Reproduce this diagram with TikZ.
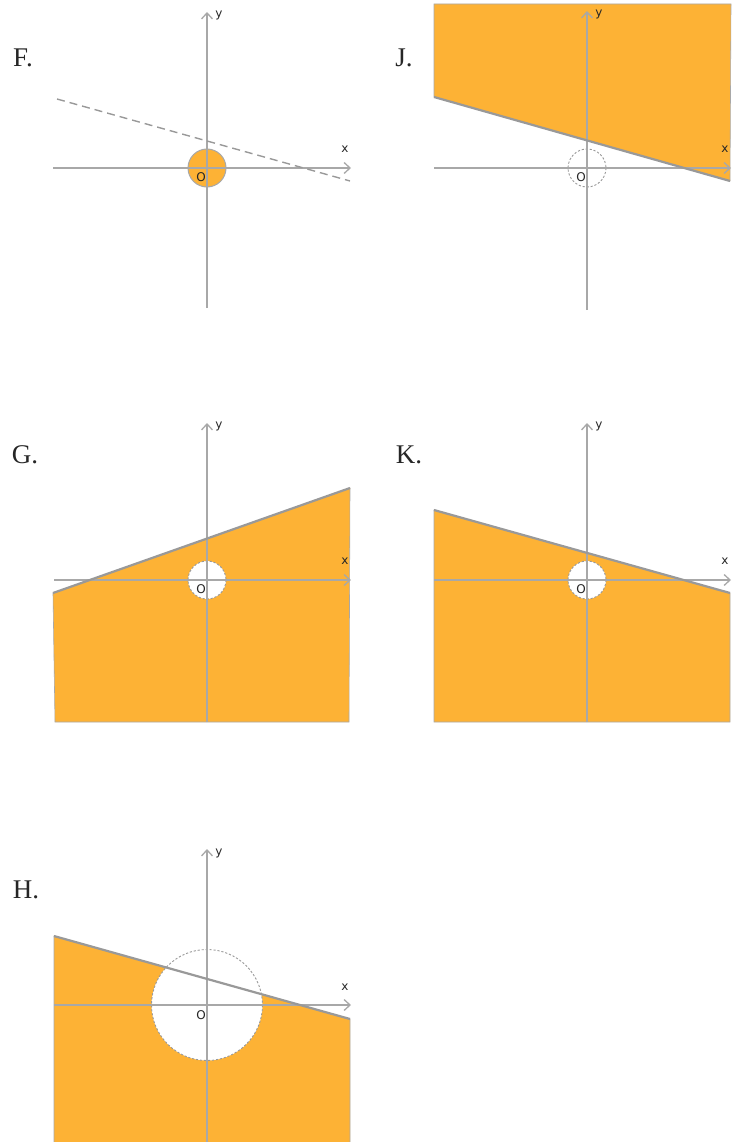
\documentclass[tikz,border=0pt]{standalone}
\usepackage{fontspec}
\setmainfont{Liberation Serif}
\newfontfamily\axfont{DejaVu Sans}
\usetikzlibrary{arrows.meta}
\definecolor{fillor}{HTML}{FDB235}
\definecolor{axgray}{HTML}{A8A8A8}
\definecolor{lngray}{HTML}{999999}
\tikzset{
  axis/.style={draw=axgray, line width=1.3pt, -{Straight Barb[length=6pt,width=11pt,line width=1.3pt]}},
  region/.style={fill=fillor, draw=axgray, line width=0.6pt},
  hole/.style={fill=white, draw=lngray, line width=0.9pt, dash pattern=on 2.2pt off 1.8pt},
  bnd/.style={draw=lngray, line width=2.2pt},
  dbnd/.style={draw=lngray, line width=1.4pt, dash pattern=on 8pt off 5pt},
  axl/.style={font=\axfont\fontsize{12}{12}\selectfont, inner sep=0pt, text=black!85},
  plabel/.style={font=\fontsize{27}{27}\selectfont, inner sep=0pt, text=black!85}
}
\begin{document}
\begin{tikzpicture}[x=1pt,y=-1pt]
\useasboundingbox (0,0) rectangle (735,1142);
% ---------- F ----------
\node[plabel] (labF) at (23,58) {F.};
\draw[region, line width=1pt] (207,168) circle (19);
\draw[axis] (53,168) -- (351,168);
\draw[axis] (207,308) -- (207,12);
\draw[dbnd] (57,99) -- (350,181);
\node[axl] (xF) at (345,149) {x};
\node[axl] (yF) at (219,15) {y};
\node[axl] (oF) at (201,177) {O};
% ---------- J ----------
\node[plabel] (labJ) at (404,58) {J.};
\draw[region] (434,4) -- (731,4) -- (730,181) -- (434,97) -- cycle;
\draw[hole, fill=none] (587,168) circle (19);
\draw[axis] (434,168) -- (731,168);
\draw[axis] (587,310) -- (587,11);
\draw[bnd] (434,97) -- (730,181);
\node[axl] (xJ) at (725,149) {x};
\node[axl] (yJ) at (599,14) {y};
\node[axl] (oJ) at (581,177) {O};
% ---------- G ----------
\node[plabel] (labG) at (25,455) {G.};
\draw[region] (53,593) -- (350,488) -- (349,722) -- (55,722) -- cycle;
\draw[hole] (207,580) circle (19);
\draw[axis] (54,580) -- (351,580);
\draw[axis] (207,722) -- (207,423);
\draw[bnd] (53,593) -- (350,488);
\node[axl] (xG) at (345,561) {x};
\node[axl] (yG) at (219,426) {y};
\node[axl] (oG) at (201,589) {O};
% ---------- K ----------
\node[plabel] (labK) at (409,455) {K.};
\draw[region] (434,510) -- (730,593) -- (730,722) -- (434,722) -- cycle;
\draw[hole] (587,580) circle (19);
\draw[axis] (434,580) -- (731,580);
\draw[axis] (587,722) -- (587,423);
\draw[bnd] (434,510) -- (730,593);
\node[axl] (xK) at (725,561) {x};
\node[axl] (yK) at (599,426) {y};
\node[axl] (oK) at (581,589) {O};
% ---------- H ----------
\node[plabel] (labH) at (26,890) {H.};
\draw[region] (54,936) -- (350,1019) -- (350,1143) -- (54,1143) -- cycle;
\draw[hole] (207,1005) circle (55.5);
\draw[axis] (54,1005) -- (351,1005);
\draw[axis] (207,1143) -- (207,849);
\draw[bnd] (54,936) -- (350,1019);
\node[axl] (xH) at (345,987) {x};
\node[axl] (yH) at (219,853) {y};
\node[axl] (oH) at (201,1015) {O};
\end{tikzpicture}
\end{document}
